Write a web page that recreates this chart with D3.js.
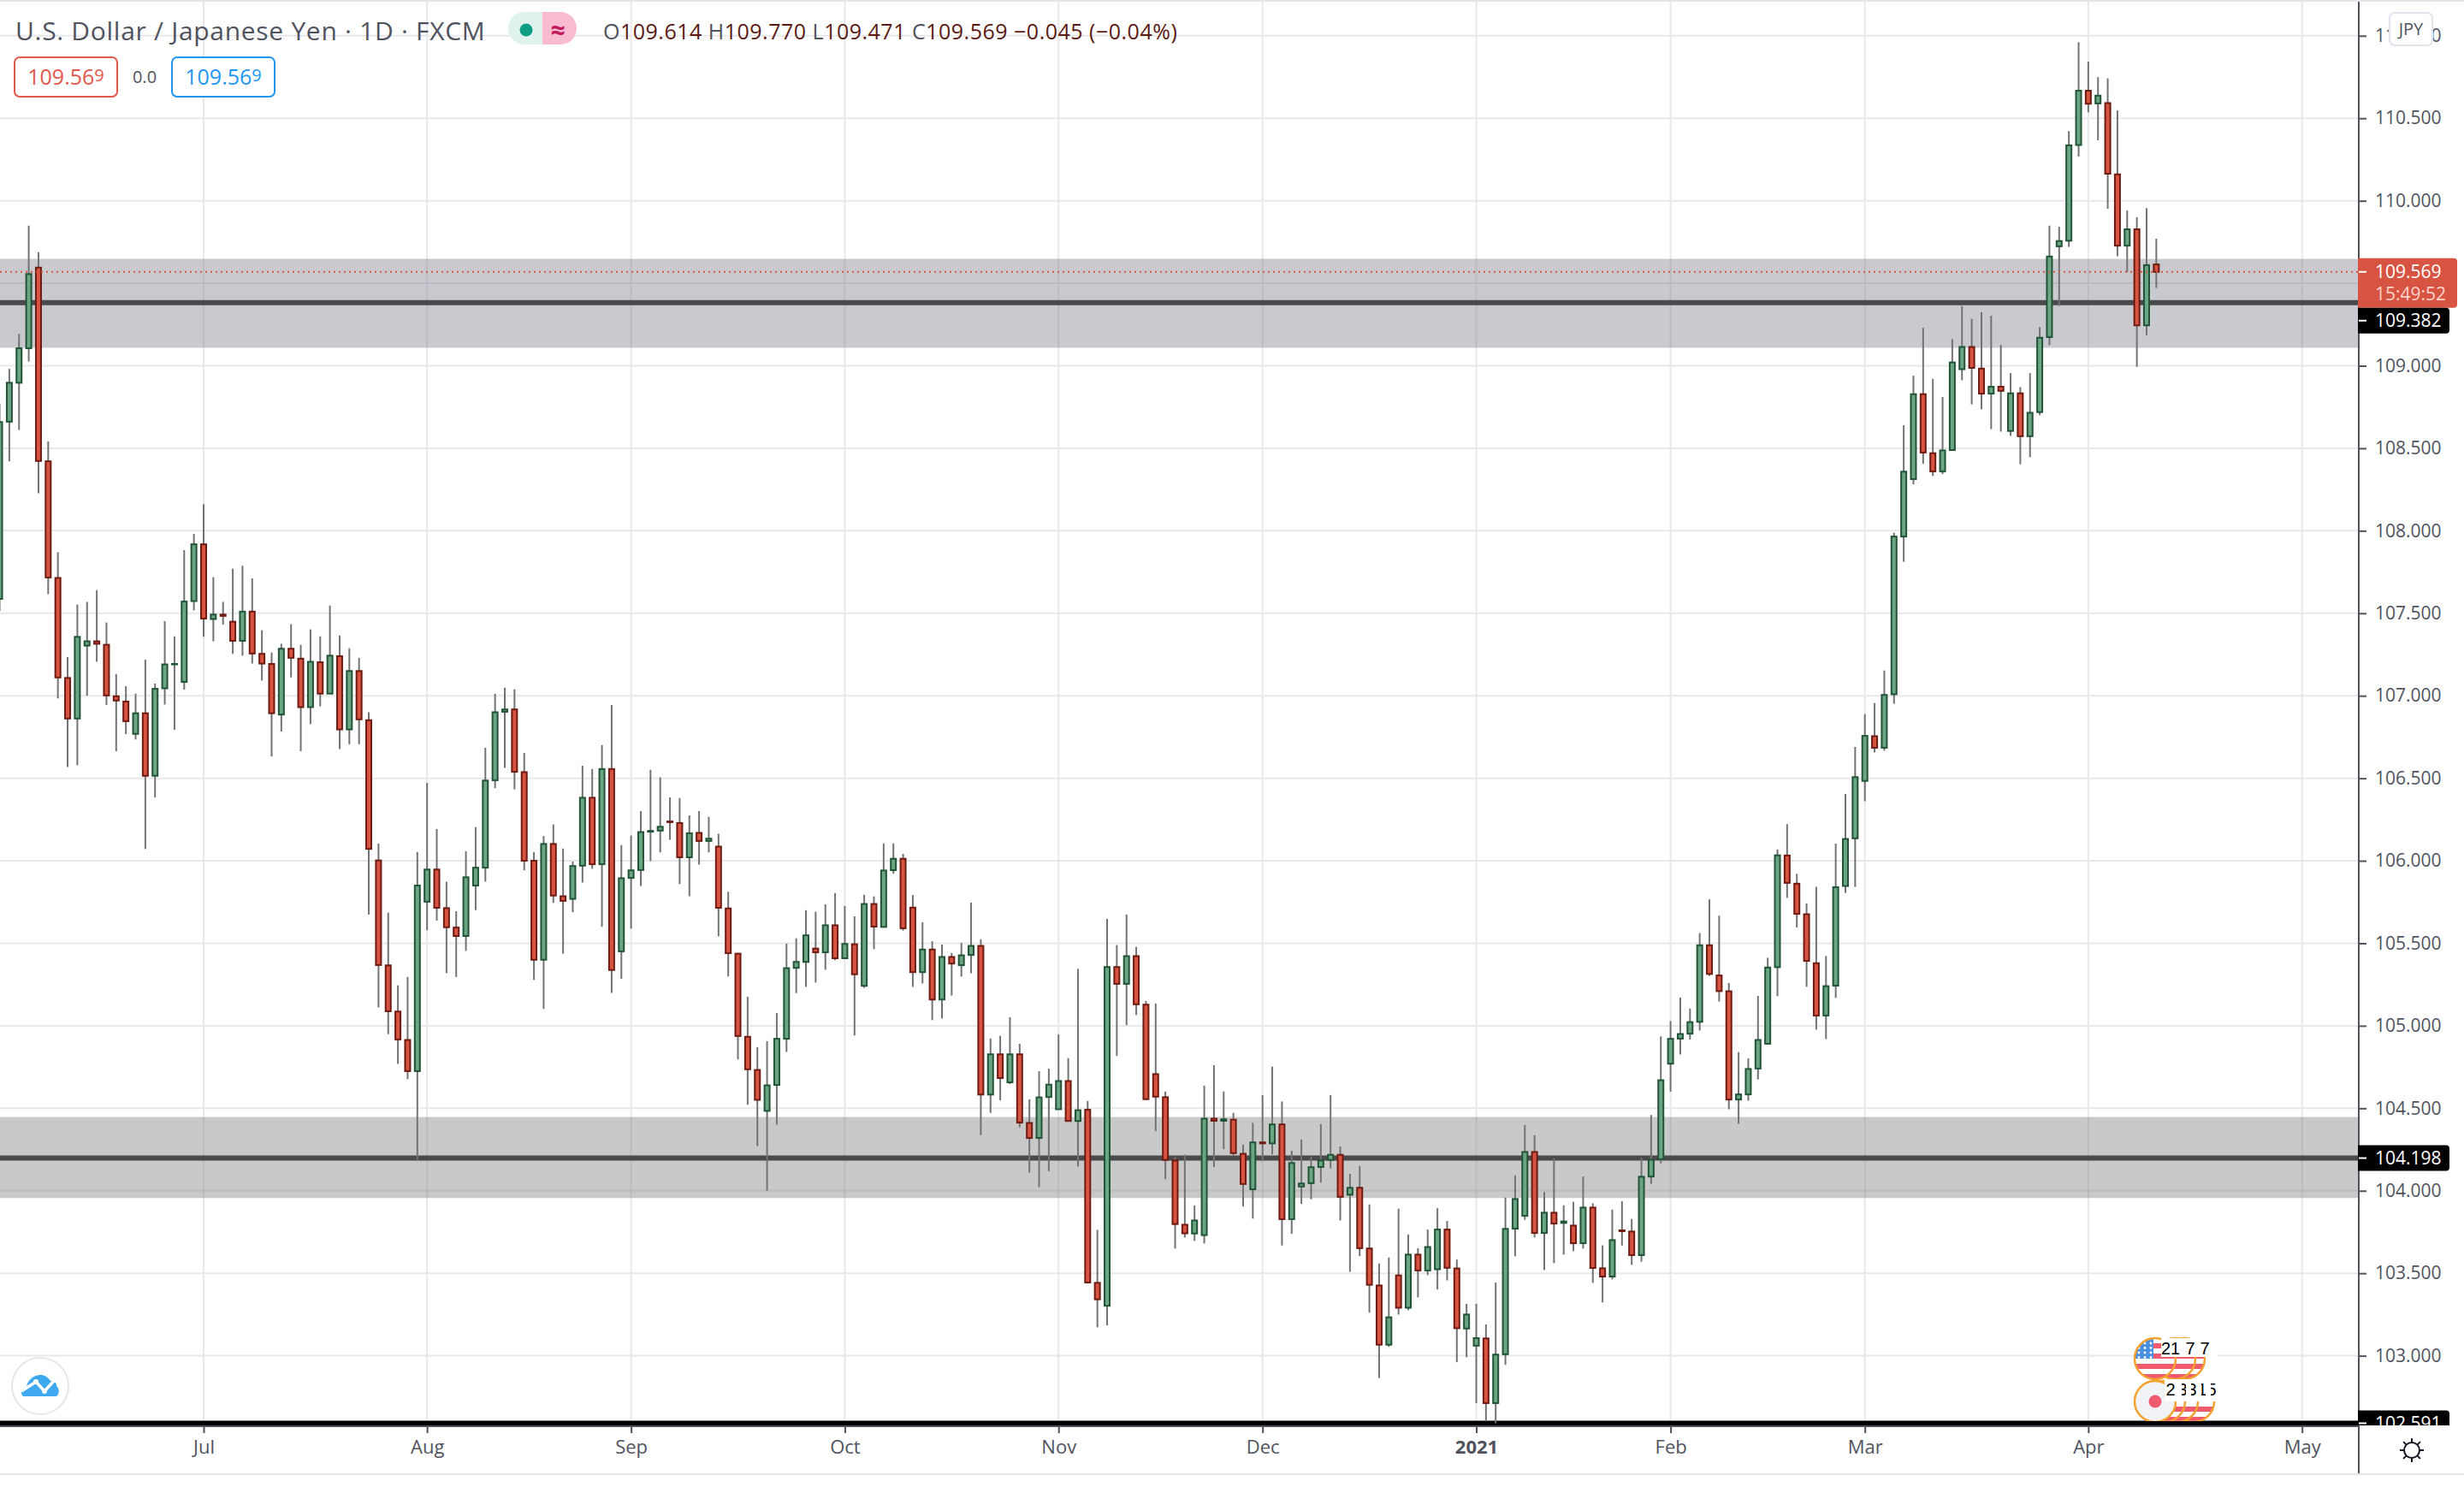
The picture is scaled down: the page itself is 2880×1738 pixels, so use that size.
<!DOCTYPE html>
<html>
<head>
<meta charset="utf-8">
<title>USD/JPY 1D</title>
<script src="https://cdn.jsdelivr.net/npm/d3@7"></script>
<style>
  html, body { margin: 0; padding: 0; background: #fff; }
  svg { display: block; }
  text { font-family: "Open Sans", sans-serif; }
</style>
</head>
<body>
<svg id="chart" width="2880" height="1738"></svg>
<script>
// candles per month, each row is [open, high, low, close]
var jun20 = [
  [107.587,108.770,107.513,108.659],[108.661,108.981,108.421,108.897],[108.897,109.193,108.611,109.106],
  [109.106,109.849,109.026,109.556],[109.595,109.688,108.227,108.423],[108.421,108.542,107.616,107.717],
  [107.714,107.870,106.984,107.111],[107.108,107.235,106.568,106.862],[106.862,107.553,106.579,107.357],
  [107.304,107.569,107.000,107.330],[107.330,107.640,107.206,107.315],[107.309,107.444,106.944,107.002],
  [106.997,107.132,106.664,106.971],[106.965,107.058,106.767,106.846],[106.769,107.013,106.735,106.894],
  [106.894,107.219,106.071,106.515],[106.515,107.074,106.383,107.042],[107.045,107.452,106.947,107.190],
  [107.190,107.360,106.793,107.193],[107.084,107.883,107.037,107.571],[107.574,107.981,107.518,107.918]
];
var jul20 = [
  [107.918,108.161,107.357,107.468],[107.465,107.719,107.330,107.492],[107.492,107.569,107.431,107.484],
  [107.449,107.770,107.254,107.333],[107.333,107.788,107.243,107.510],[107.510,107.711,107.195,107.256],
  [107.254,107.397,107.092,107.195],[107.193,107.262,106.632,106.894],[106.886,107.315,106.783,107.285],
  [107.285,107.434,107.111,107.230],[107.225,107.309,106.664,106.931],[106.931,107.402,106.828,107.206],
  [107.203,107.360,106.936,107.013],[107.013,107.547,107.013,107.243],[107.240,107.365,106.677,106.796],
  [106.796,107.288,106.706,107.150],[107.150,107.230,106.706,106.857],[106.852,106.900,105.674,106.072],
  [106.002,106.104,105.111,105.368],[105.366,105.685,104.949,105.088],[105.086,105.245,104.769,104.917],
  [104.914,105.296,104.676,104.725],[104.725,106.053,104.181,105.850]
];
var aug20 = [
  [105.752,106.472,105.579,105.947],[105.947,106.192,105.637,105.715],[105.713,105.873,105.319,105.597],
  [105.595,105.694,105.296,105.544],[105.544,106.058,105.454,105.900],[105.850,106.204,105.701,105.958],
  [105.958,106.685,105.873,106.486],[106.488,107.012,106.440,106.900],[106.903,107.049,106.563,106.917],
  [106.917,107.039,106.433,106.539],[106.537,106.653,105.942,106.000],[106.000,106.053,105.278,105.400],
  [105.400,106.150,105.102,106.102],[106.102,106.220,105.745,105.789],[105.785,106.074,105.437,105.757],
  [105.769,105.995,105.688,105.968],[105.970,106.576,105.868,106.382],[106.382,106.556,105.951,105.979],
  [105.979,106.701,105.600,106.556],[106.556,106.944,105.199,105.338],[105.451,106.095,105.285,105.894]
];
var sep20 = [
  [105.896,106.153,105.588,105.942],[105.944,106.301,105.847,106.174],[106.176,106.551,105.998,106.181],
  [106.183,106.505,106.051,106.206],[106.238,106.384,106.127,106.234],[106.229,106.380,105.859,106.021],
  [106.021,106.275,105.785,106.167],[106.169,106.301,105.977,106.120],[106.120,106.266,106.051,106.134],
  [106.086,106.164,105.542,105.715],[105.711,105.812,105.299,105.440],[105.437,105.440,104.796,104.938],
  [104.933,105.176,104.521,104.736],[104.732,104.870,104.271,104.551],[104.484,104.907,104.000,104.639],
  [104.641,105.077,104.401,104.921],[104.921,105.498,104.841,105.349],[105.351,105.530,105.198,105.387],
  [105.387,105.700,105.236,105.548],[105.468,105.691,105.262,105.445],[105.445,105.736,105.339,105.609],
  [105.609,105.804,105.397,105.409]
];
var oct20 = [
  [105.409,105.726,105.405,105.496],[105.494,105.663,104.941,105.312],[105.242,105.794,105.230,105.738],
  [105.738,105.784,105.464,105.601],[105.599,106.105,105.595,105.941],[105.943,106.105,105.921,106.012],
  [106.012,106.042,105.577,105.591],[105.716,105.792,105.236,105.325],[105.325,105.627,105.256,105.462],
  [105.462,105.512,105.034,105.159],[105.159,105.492,105.044,105.417],[105.417,105.441,105.183,105.377],
  [105.367,105.502,105.298,105.427],[105.429,105.746,105.318,105.484],[105.484,105.524,104.337,104.583],
  [104.583,104.923,104.472,104.827],[104.827,104.939,104.548,104.683],[104.657,105.052,104.647,104.827],
  [104.827,104.891,104.385,104.413],[104.411,104.554,104.109,104.320],[104.320,104.724,104.022,104.566],
  [104.568,104.740,104.119,104.643]
];
var nov20 = [
  [104.494,104.948,104.494,104.665],[104.665,104.804,104.419,104.423],[104.423,105.345,104.147,104.488],
  [104.491,104.544,103.437,103.444],[103.442,103.763,103.172,103.342],[103.303,105.648,103.185,105.356],
  [105.356,105.489,104.817,105.254],[105.254,105.674,105.004,105.422],[105.422,105.478,105.065,105.130],
  [105.128,105.150,104.552,104.555],[104.707,105.135,104.361,104.570],[104.567,104.602,104.070,104.187],
  [104.183,104.204,103.650,103.798],[103.794,104.218,103.717,103.742],[103.741,103.911,103.696,103.820],
  [103.731,104.637,103.681,104.437],[104.437,104.761,104.143,104.424],[104.424,104.602,104.252,104.433],
  [104.431,104.472,104.215,104.228],[104.224,104.280,103.904,104.041],[104.009,104.411,103.831,104.293]
];
var dec20 = [
  [104.293,104.580,104.180,104.287],[104.287,104.752,104.220,104.402],[104.402,104.541,103.668,103.828],
  [103.828,104.243,103.739,104.168],[104.026,104.311,103.920,104.044],[104.046,104.205,103.948,104.143],
  [104.144,104.404,104.050,104.183],[104.187,104.580,104.135,104.218],[104.218,104.268,103.820,103.963],
  [103.976,104.102,103.509,104.018],[104.018,104.150,103.604,103.652],[103.650,103.917,103.261,103.430],
  [103.426,103.559,102.865,103.067],[103.067,103.596,103.054,103.233],[103.487,103.891,103.250,103.291],
  [103.291,103.735,103.276,103.613],[103.613,103.652,103.354,103.517],[103.517,103.765,103.489,103.659],
  [103.524,103.894,103.402,103.765],[103.765,103.817,103.457,103.533],[103.529,103.583,102.961,103.167],
  [103.165,103.315,102.991,103.250]
];
var jan21 = [
  [103.061,103.315,102.712,103.107],[103.105,103.190,102.603,102.713],[102.713,103.444,102.591,103.007],
  [103.009,103.959,102.945,103.769],[103.770,104.093,103.603,103.950],[103.848,104.399,103.824,104.235],
  [104.235,104.337,103.717,103.744],[103.744,103.993,103.520,103.867],[103.867,104.197,103.561,103.801],
  [103.805,103.912,103.613,103.814],[103.789,103.933,103.634,103.682],[103.682,104.086,103.650,103.898],
  [103.898,103.924,103.442,103.532],[103.530,103.669,103.323,103.480],[103.480,103.886,103.463,103.701],
  [103.760,103.936,103.668,103.755],[103.753,103.829,103.551,103.610],[103.610,104.200,103.570,104.085],
  [104.086,104.459,104.042,104.188],[104.192,104.936,104.166,104.670]
];
var feb21 = [
  [104.770,105.029,104.601,104.921],[104.922,105.171,104.826,104.950],[104.952,105.104,104.917,105.022],
  [105.024,105.562,104.971,105.488],[105.488,105.766,105.302,105.314],[105.305,105.667,105.147,105.210],
  [105.209,105.259,104.494,104.553],[104.553,104.840,104.406,104.584],[104.584,104.802,104.546,104.738],
  [104.741,105.181,104.675,104.914],[104.891,105.412,104.890,105.353],[105.355,106.069,105.179,106.033],
  [106.032,106.222,105.775,105.866],[105.861,105.921,105.595,105.678],[105.676,105.741,105.236,105.393],
  [105.379,105.842,104.977,105.062],[105.062,105.423,104.919,105.240],[105.243,106.104,105.169,105.840],
  [105.847,106.405,105.805,106.132],[106.136,106.690,105.842,106.507]
];
var mar21 = [
  [106.484,106.889,106.361,106.757],[106.755,106.956,106.657,106.685],[106.685,107.153,106.667,107.005],
  [107.009,107.988,106.951,107.965],[107.965,108.639,107.812,108.358],[108.313,108.940,108.281,108.828],
  [108.828,109.230,108.407,108.474],[108.470,108.921,108.332,108.360],[108.360,108.811,108.343,108.487],
  [108.489,109.161,108.485,109.020],[108.979,109.361,108.912,109.114],[109.114,109.284,108.766,108.987],
  [108.983,109.325,108.736,108.831],[108.831,109.303,108.616,108.873],[108.873,109.127,108.601,108.848],
  [108.605,108.955,108.575,108.833],[108.833,108.871,108.403,108.573],[108.573,108.955,108.446,108.715],
  [108.719,109.234,108.700,109.170],[109.174,109.849,109.125,109.662],[109.724,109.842,109.363,109.756],
  [109.758,110.422,109.720,110.336],[110.338,110.961,110.268,110.667]
];
var apr21 = [
  [110.667,110.843,110.536,110.588],[110.590,110.749,110.366,110.637],[110.592,110.742,109.952,110.164],
  [110.160,110.547,109.664,109.728],[109.728,109.941,109.567,109.827],[109.827,109.900,108.994,109.245],
  [109.245,109.956,109.185,109.610],[109.614,109.770,109.471,109.569]
];

var monthRows = [jun20, jul20, aug20, sep20, oct20, nov20, dec20, jan21, feb21, mar21, apr21];
var monthLabels = ["Jul", "Aug", "Sep", "Oct", "Nov", "Dec", "2021", "Feb", "Mar", "Apr", "May"];
// bar number of the first session of each labelled month, Jul 1 2020 is bar 0
var monthBars = [0, 23, 44, 66, 88, 109, 131, 151, 171, 194, 216];
var priceTicks = [103, 103.5, 104, 104.5, 105, 105.5, 106, 106.5, 107, 107.5, 108, 108.5, 109, 109.5, 110, 110.5, 111];

var zones = [[109.109, 109.648, "#787b86"], [103.956, 104.447, "#787878"]];
var levels = [109.382, 104.198];
var bottomLevel = 102.591;
var lastClose = 109.569;

var candles = d3.merge(monthRows).map(function(r, i) {
  return {bar: i - jun20.length, open: r[0], high: r[1], low: r[2], close: r[3]};
});

var paneRight = 2757, paneBottom = 1667;
var barWidth = 11.355;

var svg = d3.select("#chart");

var xScale = d3.scaleLinear()
  .domain([-21, 216])
  .range([238 - 21 * barWidth, 238 + 216 * barWidth]);
// 1 yen is about 192.83 px on this chart
var yScale = d3.scaleLinear()
  .domain([111, 109])
  .range([41.8, 427.5]);

svg.append("clipPath").attr("id", "pane")
  .append("rect").attr("x", 0).attr("y", 2).attr("width", paneRight).attr("height", paneBottom - 2);
svg.append("clipPath").attr("id", "axisClip")
  .append("rect").attr("x", paneRight - 2).attr("y", 0).attr("width", 123).attr("height", paneBottom - 1);

// page frame
svg.append("rect").attr("x", 0).attr("y", 0).attr("width", 2880).attr("height", 2).attr("fill", "#e4e5e8");
svg.append("rect").attr("x", 0).attr("y", 1722).attr("width", 2880).attr("height", 2).attr("fill", "#e4e5e8");

var pane = svg.append("g").attr("clip-path", "url(#pane)");

// grid
pane.append("g").selectAll("line").data(priceTicks).enter().append("line")
  .attr("x1", 0).attr("x2", paneRight)
  .attr("y1", function(d) { return yScale(d); })
  .attr("y2", function(d) { return yScale(d); })
  .attr("stroke", "#e8e8ea").attr("stroke-width", 2);
pane.append("g").selectAll("line").data(monthBars).enter().append("line")
  .attr("x1", function(d) { return xScale(d); })
  .attr("x2", function(d) { return xScale(d); })
  .attr("y1", 0).attr("y2", paneBottom)
  .attr("stroke", "#e8e8ea").attr("stroke-width", 2);

// support and resistance zones
pane.append("g").selectAll("rect").data(zones).enter().append("rect")
  .attr("x", 0).attr("width", paneRight)
  .attr("y", function(d) { return yScale(d[1]); })
  .attr("height", function(d) { return yScale(d[0]) - yScale(d[1]); })
  .attr("fill", function(d) { return d[2]; })
  .attr("fill-opacity", 0.4);

pane.append("g").selectAll("line").data(levels).enter().append("line")
  .attr("x1", 0).attr("x2", paneRight)
  .attr("y1", function(d) { return yScale(d); })
  .attr("y2", function(d) { return yScale(d); })
  .attr("stroke", "#4a4a4d").attr("stroke-width", 6);

pane.append("line")
  .attr("x1", 0).attr("x2", paneRight)
  .attr("y1", yScale(bottomLevel)).attr("y2", yScale(bottomLevel))
  .attr("stroke", "#000").attr("stroke-width", 6);

// candles
var candle = pane.append("g").selectAll("g").data(candles).enter().append("g");
candle.append("line")
  .attr("x1", function(d) { return xScale(d.bar); })
  .attr("x2", function(d) { return xScale(d.bar); })
  .attr("y1", function(d) { return yScale(d.high); })
  .attr("y2", function(d) { return yScale(d.low); })
  .attr("stroke", "#737375").attr("stroke-width", 2);
candle.append("rect")
  .attr("x", function(d) { return xScale(d.bar) - 3; })
  .attr("width", 6)
  .attr("y", function(d) { return yScale(Math.max(d.open, d.close)); })
  .attr("height", function(d) { return Math.abs(yScale(d.open) - yScale(d.close)); })
  .attr("fill", function(d) { return d.close > d.open ? "#6ba583" : "#d75442"; })
  .attr("stroke", function(d) { return d.close > d.open ? "#225437" : "#6f1b11"; })
  .attr("stroke-width", 2);

// last price line
pane.append("line")
  .attr("x1", 0).attr("x2", paneRight)
  .attr("y1", yScale(lastClose)).attr("y2", yScale(lastClose))
  .attr("stroke", "#d75442").attr("stroke-width", 2)
  .attr("stroke-dasharray", "2,4");

// events in the lower right
function drawFlag(g, cx, cy, kind) {
  var id = "flag" + kind + cx;
  g.append("clipPath").attr("id", id).append("circle").attr("cx", cx).attr("cy", cy).attr("r", 24);
  var f = g.append("g").attr("clip-path", "url(#" + id + ")");
  f.append("rect").attr("x", cx - 24).attr("y", cy - 24).attr("width", 48).attr("height", 48)
    .attr("fill", kind == "us" ? "#fff" : "#f2f3f7");
  if (kind == "us") {
    d3.range(0, 4).forEach(function(i) {
      f.append("rect").attr("x", cx - 24).attr("y", cy - 18 + i * 12).attr("width", 48).attr("height", 6).attr("fill", "#ef5a6f");
    });
    f.append("rect").attr("x", cx - 24).attr("y", cy - 24).attr("width", 22).attr("height", 24).attr("fill", "#4a8fe0");
    d3.range(0, 4).forEach(function(r) {
      d3.range(0, 3).forEach(function(c) {
        f.append("circle").attr("cx", cx - 19 + c * 7).attr("cy", cy - 18 + r * 5.5).attr("r", 1.4).attr("fill", "#fff");
      });
    });
  } else {
    f.append("circle").attr("cx", cx).attr("cy", cy).attr("r", 7.5).attr("fill", "#ef5a6f");
  }
  g.append("circle").attr("cx", cx).attr("cy", cy).attr("r", 24)
    .attr("fill", "none").attr("stroke", "#f4a12f").attr("stroke-width", 2.5);
}

var events = pane.append("g");
[2553, 2542].forEach(function(cx) { drawFlag(events, cx, 1588, "us"); });
drawFlag(events, 2519, 1588, "us");
[2564, 2545, 2530].forEach(function(cx) { drawFlag(events, cx, 1638, "us"); });
drawFlag(events, 2519, 1638, "jp");
// the black level line sits over the flags
events.append("rect").attr("x", 2490).attr("y", 1661).attr("width", 100).attr("height", 6).attr("fill", "#000");
events.append("rect").attr("x", 2526).attr("y", 1564).attr("width", 66).attr("height", 22).attr("fill", "#fff");
events.append("rect").attr("x", 2530).attr("y", 1612).attr("width", 62).attr("height", 26).attr("fill", "#fff");
var eventLabels = [["21", 2537, 1576], ["7", 2560, 1576], ["7", 2577, 1576],
                   ["2", 2537, 1624], ["3", 2551, 1624], ["3", 2562, 1624], ["1", 2574, 1624], ["5", 2585, 1624]];
events.selectAll("text").data(eventLabels).enter().append("text")
  .attr("x", function(d) { return d[1]; })
  .attr("y", function(d) { return d[2]; })
  .attr("dy", "0.36em")
  .attr("text-anchor", "middle")
  .attr("fill", "#000")
  .style("font-family", "'Liberation Sans', sans-serif")
  .style("font-size", "20px")
  .text(function(d) { return d[0]; });
[2544, 2555, 2567, 2578, 2590].forEach(function(x) {
  events.append("rect").attr("x", x).attr("y", 1614).attr("width", 6).attr("height", 20).attr("fill", "#fff");
});

// axes
var xAxis = d3.axisBottom(xScale)
  .tickValues(monthBars)
  .tickSize(8)
  .tickPadding(8)
  .tickFormat(function(d, i) { return monthLabels[i]; });
var xG = svg.append("g").attr("transform", "translate(0," + paneBottom + ")").call(xAxis);
xG.select(".domain").remove();
xG.selectAll("line").attr("stroke", "#50535e").attr("stroke-width", 2);
xG.selectAll("text").attr("fill", "#50535e").style("font-size", "22px")
  .style("font-weight", function(d, i) { return monthLabels[i] == "2021" ? 700 : 400; });

var yAxis = d3.axisRight(yScale)
  .tickValues(priceTicks.filter(function(d) { return d != 109.5; }))
  .tickSize(9)
  .tickPadding(10)
  .tickFormat(d3.format(".3f"));
var yG = svg.append("g").attr("transform", "translate(" + paneRight + ",0)").call(yAxis);
yG.select(".domain").remove();
yG.selectAll("line").attr("stroke", "#50535e").attr("stroke-width", 2);
yG.selectAll("text").attr("fill", "#50535e").style("font-size", "21px");

svg.append("line").attr("x1", 0).attr("x2", paneRight).attr("y1", paneBottom).attr("y2", paneBottom)
  .attr("stroke", "#50535e").attr("stroke-width", 2);
svg.append("line").attr("x1", paneRight).attr("x2", paneRight).attr("y1", 2).attr("y2", 1722)
  .attr("stroke", "#50535e").attr("stroke-width", 2);

// price labels on the axis
function boxRight(x, y, w, h, r) {
  return "M" + x + "," + y + "H" + (x + w - r) + "Q" + (x + w) + "," + y + " " + (x + w) + "," + (y + r) +
    "V" + (y + h - r) + "Q" + (x + w) + "," + (y + h) + " " + (x + w - r) + "," + (y + h) + "H" + x + "Z";
}
var labels = svg.append("g");
var lastY = yScale(lastClose);
labels.append("path").attr("d", boxRight(paneRight - 1, lastY - 16, 116, 58, 4)).attr("fill", "#d75442");
labels.append("line").attr("x1", paneRight).attr("x2", paneRight + 9).attr("y1", lastY).attr("y2", lastY)
  .attr("stroke", "#fff").attr("stroke-width", 2);
labels.append("text").attr("x", paneRight + 19).attr("y", lastY).attr("dy", "0.36em")
  .attr("fill", "#fff").style("font-size", "21px").text(d3.format(".3f")(lastClose));
labels.append("text").attr("x", paneRight + 19).attr("y", lastY + 26).attr("dy", "0.36em")
  .attr("fill", "#ffd2ca").style("font-size", "21px").text("15:49:52");

// black tags, the upper one is pushed below the red tag
function blackTag(value, cy, g) {
  g.append("path").attr("d", boxRight(paneRight - 1, cy - 15, 107, 30, 4)).attr("fill", "#000");
  g.append("line").attr("x1", paneRight).attr("x2", paneRight + 9).attr("y1", cy).attr("y2", cy)
    .attr("stroke", "#fff").attr("stroke-width", 2);
  g.append("text").attr("x", paneRight + 19).attr("y", cy).attr("dy", "0.36em")
    .attr("fill", "#fff").style("font-size", "21px").text(d3.format(".3f")(value));
}
blackTag(levels[0], lastY + 57, labels);
blackTag(levels[1], yScale(levels[1]), labels);
blackTag(bottomLevel, yScale(bottomLevel), labels.append("g").attr("clip-path", "url(#axisClip)"));

// currency button
svg.append("rect").attr("x", 2793).attr("y", 15).attr("width", 50).attr("height", 38).attr("rx", 6)
  .attr("fill", "#fff").attr("stroke", "#e0e3eb").attr("stroke-width", 2);
svg.append("text").attr("x", 2818).attr("y", 34).attr("dy", "0.36em").attr("text-anchor", "middle")
  .attr("fill", "#50535e").style("font-size", "20px").text("JPY");

// settings icon
var gear = svg.append("g").attr("transform", "translate(2819,1695)");
gear.append("circle").attr("r", 9).attr("fill", "none").attr("stroke", "#131722").attr("stroke-width", 2);
d3.range(0, 8).forEach(function(i) {
  gear.append("line").attr("x1", 0).attr("x2", 0).attr("y1", -9).attr("y2", -14)
    .attr("transform", "rotate(" + i * 45 + ")")
    .attr("stroke", "#131722").attr("stroke-width", 2);
});

// legend
svg.append("text").attr("x", 18).attr("y", 36).attr("dy", "0.36em")
  .attr("fill", "#50535e").style("font-size", "30px").style("letter-spacing", "0.7px")
  .text("U.S. Dollar / Japanese Yen · 1D · FXCM");

svg.append("path").attr("d", "M634,14H613a19,19 0 0 0 0,38H634Z").attr("fill", "#dff2ee");
svg.append("path").attr("d", "M634,14H655a19,19 0 0 1 0,38H634Z").attr("fill", "#f8bbd0");
svg.append("circle").attr("cx", 615).attr("cy", 35).attr("r", 7.5).attr("fill", "#0f9d84");
svg.append("text").attr("x", 652).attr("y", 35).attr("dy", "0.36em").attr("text-anchor", "middle")
  .attr("fill", "#c2185b").style("font-size", "30px").style("font-weight", 700).text("≈");

var ohlcText = svg.append("text").attr("x", 705).attr("y", 37).attr("dy", "0.36em")
  .style("font-size", "25px").style("letter-spacing", "0.5px");
var last = candles[candles.length - 1];
var legendParts = [["O", "#50535e"], [last.open.toFixed(3), "#5b1a13"],
  [" H", "#50535e"], [last.high.toFixed(3), "#5b1a13"],
  [" L", "#50535e"], [last.low.toFixed(3), "#5b1a13"],
  [" C", "#50535e"], [last.close.toFixed(3), "#5b1a13"],
  [" −0.045 (−0.04%)", "#5b1a13"]];
legendParts.forEach(function(p) {
  ohlcText.append("tspan").attr("fill", p[1]).text(p[0]);
});

function quoteBox(x, w, color, value) {
  svg.append("rect").attr("x", x).attr("y", 67).attr("width", w).attr("height", 46).attr("rx", 6)
    .attr("fill", "#fff").attr("stroke", color).attr("stroke-width", 2);
  var t = svg.append("text").attr("x", x + w / 2).attr("y", 90).attr("dy", "0.36em")
    .attr("text-anchor", "middle").attr("fill", color).style("font-size", "25px");
  t.append("tspan").text(value.slice(0, -1));
  t.append("tspan").attr("dy", "-4").style("font-size", "20px").text(value.slice(-1));
}
quoteBox(17, 120, "#e2584b", last.close.toFixed(3));
quoteBox(201, 120, "#2196f3", last.close.toFixed(3));
svg.append("text").attr("x", 169).attr("y", 90).attr("dy", "0.36em").attr("text-anchor", "middle")
  .attr("fill", "#50535e").style("font-size", "20px").text("0.0");

// logo badge
var logo = svg.append("g").attr("transform", "translate(47,1620)");
logo.append("circle").attr("r", 33).attr("fill", "#fff").attr("stroke", "#e6e6e6").attr("stroke-width", 2);
logo.append("path")
  .attr("d", "M-20,12C-24,8 -22,2 -16,1C-15,-8 -6,-14 2,-13C7,-12 10,-9 12,-6C17,-6 20,-3 19,0C22,2 23,8 20,11C19,12 18,12 16,12Z")
  .attr("fill", "#3fa9f0");
logo.append("path")
  .attr("d", "M-22,6L-5,-5L5,6L17,-7")
  .attr("fill", "none").attr("stroke", "#fff").attr("stroke-width", 3.5);
logo.append("circle").attr("cx", -5).attr("cy", -5).attr("r", 3).attr("fill", "#fff");
logo.append("circle").attr("cx", 5).attr("cy", 6).attr("r", 3).attr("fill", "#fff");
</script>
</body>
</html>
